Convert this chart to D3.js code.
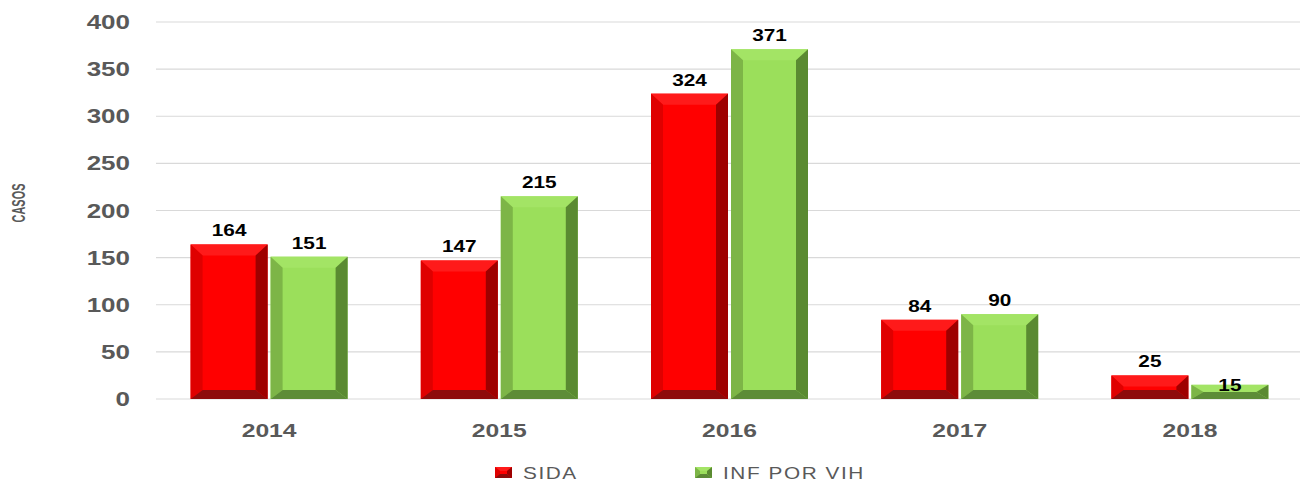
<!DOCTYPE html>
<html>
<head>
<meta charset="utf-8">
<script src="https://cdn.jsdelivr.net/npm/d3@7"></script>
<style>
  body { margin: 0; background: #fff; }
  svg { display: block; }
</style>
</head>
<body>
<svg id="chart" width="1304" height="481"></svg>
<script>
const years = ["2014", "2015", "2016", "2017", "2018"];
const sida = [164, 147, 324, 84, 25];
const vih = [151, 215, 371, 90, 15];
const seriesNames = ["SIDA", "INF POR VIH"];
const yTicks = [0, 50, 100, 150, 200, 250, 300, 350, 400];

// colores de las caras biseladas
const palettes = [
    {face: "#ff0000", top: "#ff1a1a", left: "#df0000", right: "#9e0000", bottom: "#8e0b0b"},
    {face: "#9bdf5b", top: "#a3e465", left: "#7db547", right: "#5a8a31", bottom: "#5d8c37"}
];

const svg = d3.select("#chart");
const sx = 1.3;   // el original está estirado en horizontal

const x = d3.scaleBand().domain(years).range([154, 1305]);
const y = d3.scaleLinear().domain([0, 400]).range([399, 22]);

// rejilla
svg.append("g").selectAll("line")
    .data(yTicks)
    .enter().append("line")
    .attr("x1", 156).attr("x2", 1300)
    .attr("y1", d => y(d)).attr("y2", d => y(d))
    .attr("stroke", "#d9d9d9").attr("stroke-width", 1.2);

function stretchedText(g, px, py, txt, anchor) {
    return g.append("text")
        .attr("transform", `translate(${px},${py}) scale(${sx},1)`)
        .attr("text-anchor", anchor)
        .text(txt);
}

// etiquetas del eje y
const yAxis = svg.append("g")
    .attr("font-family", "Liberation Sans, Arial, sans-serif")
    .attr("font-weight", "bold").attr("font-size", 20).attr("fill", "#595959");
yTicks.forEach(t => stretchedText(yAxis, 130, y(t) + 7, t, "end"));

svg.append("text")
    .attr("transform", "translate(25,203) scale(1.3,1) rotate(-90) scale(0.78,1)")
    .attr("text-anchor", "middle")
    .attr("font-family", "Liberation Sans, Arial, sans-serif")
    .attr("font-weight", "bold").attr("font-size", 14).attr("fill", "#595959")
    .text("CASOS");

// categorías
const xAxis = svg.append("g")
    .attr("font-family", "Liberation Sans, Arial, sans-serif")
    .attr("font-weight", "bold").attr("font-size", 19).attr("fill", "#595959");
years.forEach(yr => stretchedText(xAxis, x(yr) + x.bandwidth() / 2, 437, yr, "middle"));

// barra con bisel
function bevelBar(g, x0, y0, w, h, pal, bs, bt, bb) {
    const s = Math.min(bs, w / 2), t = Math.min(bt, h / 2), b = Math.min(bb, h / 2);
    const x1 = x0 + w, y1 = y0 + h;
    const poly = (pts, c) => g.append("polygon").attr("points", pts.map(p => p.join(",")).join(" ")).attr("fill", c);
    g.append("rect").attr("x", x0).attr("y", y0).attr("width", w).attr("height", h).attr("fill", pal.face);
    poly([[x0, y0], [x1, y0], [x1 - s, y0 + t], [x0 + s, y0 + t]], pal.top);
    poly([[x0, y0], [x0 + s, y0 + t], [x0 + s, y1 - b], [x0, y1]], pal.left);
    poly([[x1, y0], [x1, y1], [x1 - s, y1 - b], [x1 - s, y0 + t]], pal.right);
    poly([[x0, y1], [x0 + s, y1 - b], [x1 - s, y1 - b], [x1, y1]], pal.bottom);
}

const barW = 77;
const bars = svg.append("g");
const labels = svg.append("g")
    .attr("font-family", "Liberation Sans, Arial, sans-serif")
    .attr("font-weight", "bold").attr("font-size", 16).attr("fill", "#000");

[sida, vih].forEach((vals, si) => {
    vals.forEach((v, i) => {
        const cx = x(years[i]) + x.bandwidth() / 2;
        const bx = si === 0 ? cx - barW - 1.5 : cx + 1.5;
        const top = y(v);
        bevelBar(bars, bx, top, barW, y(0) - top, palettes[si], 12, 11, 9);
        const ly = v < 20 ? top + 6 : top - 8;
        stretchedText(labels, bx + barW / 2, ly, v, "middle");
    });
});

// leyenda
const legend = svg.append("g")
    .attr("font-family", "Liberation Sans, Arial, sans-serif")
    .attr("font-size", 16).attr("fill", "#595959");
const legendX = [495, 695];
seriesNames.forEach((name, i) => {
    bevelBar(legend, legendX[i], 467, 17, 11, palettes[i], 5, 4, 4);
    stretchedText(legend, legendX[i] + 28, 479, name, "start")
        .attr("letter-spacing", 1.2);
});
</script>
</body>
</html>
